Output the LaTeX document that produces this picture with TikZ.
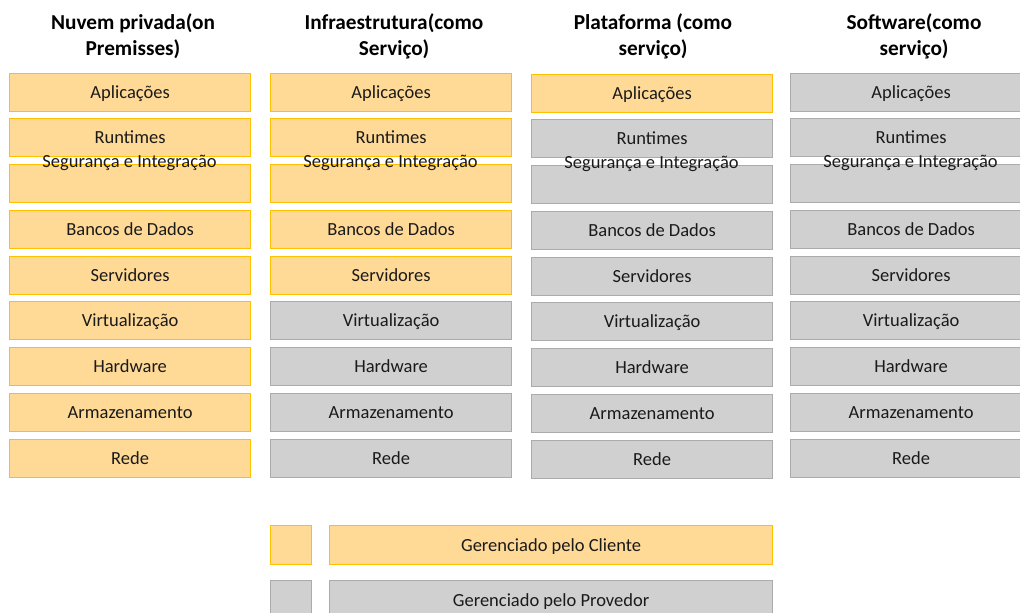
\documentclass[tikz,border=0pt]{standalone}
\usepackage{fontspec}
\setmainfont{Carlito}
\definecolor{cfill}{HTML}{FFD996}
\definecolor{cdraw}{HTML}{FFC000}
\definecolor{pfill}{HTML}{D0D0D0}
\definecolor{pdraw}{HTML}{ABABAB}
\definecolor{txt}{HTML}{1A1A1A}
\tikzset{
  layer/.style={anchor=north west, minimum width=241pt, minimum height=38pt, inner sep=0pt,
    line width=1.2pt, font=\fontsize{18.5}{22}\selectfont, text=txt, text height=12.5pt, text depth=0pt},
  cli/.style={layer, fill=cfill, draw=cdraw},
  prov/.style={layer, fill=pfill, draw=pdraw},
  seglbl/.style={anchor=base, inner sep=0pt, font=\fontsize{18.5}{22}\selectfont, text=txt},
  head/.style={font=\bfseries\fontsize{21.3}{26}\selectfont, align=center, text=black, inner sep=0pt},
}
\begin{document}
\begin{tikzpicture}[x=1pt,y=-1pt]
\useasboundingbox (0,0) rectangle (1020,613);
\node[head] (ha) at (133,36.5) {Nuvem privada(on\\Premisses)};
\node[head] (hb) at (394,36.5) {Infraestrutura(como\\Serviço)};
\node[head] (hc) at (653,36.5) {Plataforma (como\\serviço)};
\node[head] (hd) at (914,36.5) {Software(como\\serviço)};
\foreach \c/\x/\dy/\n in {a/9/0/9, b/270/0/5, c/531/1/1, d/790/0/0}{
  \foreach \lab/\top [count=\i] in {Aplicações/73, Runtimes/118, /164, Bancos de Dados/210,
      Servidores/256, Virtualização/301, Hardware/347, Armazenamento/393, Rede/439}{
    \ifnum\i>\n\def\st{prov}\else\def\st{cli}\fi
    \node[\st] (\c\i) at (\x,\top+\dy) {\lab};
  }
  \node[seglbl] (s\c) at (\x+120.5,167+\dy) {Segurança e Integração};
}
\node[cli, minimum width=41pt, minimum height=39pt] (lcsq) at (270,525) {};
\node[cli, minimum width=443pt, minimum height=39pt] (lc) at (329,525) {Gerenciado pelo Cliente};
\node[prov, minimum width=41pt, minimum height=40pt] (lpsq) at (270,580) {};
\node[prov, minimum width=443pt, minimum height=40pt] (lp) at (329,580) {Gerenciado pelo Provedor};
\end{tikzpicture}
\end{document}
